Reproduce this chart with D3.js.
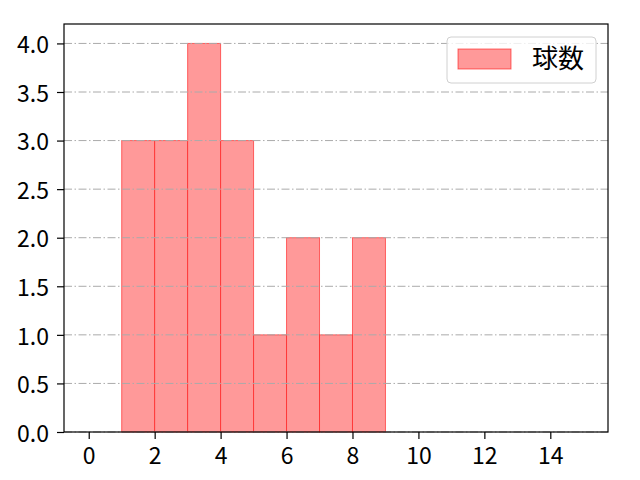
<!DOCTYPE html>
<html>
<head>
<meta charset="utf-8">
<script src="https://cdn.jsdelivr.net/npm/d3@7"></script>
<style>
  body { margin: 0; background: #fff; }
  svg text { font-family: "Noto Sans CJK JP", "DejaVu Sans", sans-serif; }
</style>
</head>
<body>
<svg id="chart" width="640" height="480"></svg>
<script>
// bin edges and counts
var binStarts = [1, 2, 3, 4, 5, 6, 7, 8];
var binEnds = [2, 3, 4, 5, 6, 7, 8, 9];
var counts = [3, 3, 4, 3, 1, 2, 1, 2];
var xTicks = [0, 2, 4, 6, 8, 10, 12, 14];
var yTicks = [0, 0.5, 1, 1.5, 2, 2.5, 3, 3.5, 4];
var seriesName = '球数';

var margin = { top: 24, right: 32, bottom: 48, left: 64 };
var width = 640 - margin.left - margin.right;
var height = 480 - margin.top - margin.bottom;

var svg = d3.select('#chart');
var g = svg.append('g').attr('transform', 'translate(' + margin.left + ',' + margin.top + ')');

var xScale = d3.scaleLinear().domain([-0.75, 15.75]).range([0, width]);
var yScale = d3.scaleLinear().domain([0, 4.2]).range([height, 0]);

//Bars
g.selectAll('rect.bar').data(counts).enter().append('rect')
  .attr('class', 'bar')
  .attr('x', function (d, i) { return xScale(binStarts[i]); })
  .attr('y', function (d) { return yScale(d); })
  .attr('width', function (d, i) { return xScale(binEnds[i]) - xScale(binStarts[i]); })
  .attr('height', function (d) { return height - yScale(d); })
  .attr('fill', 'rgb(255,153,153)')
  .attr('stroke', 'rgba(255,0,0,0.55)')
  .attr('stroke-width', 1);

//Grid lines (drawn over bars)
g.append('g').selectAll('line').data(yTicks).enter().append('line')
  .attr('x1', 0).attr('x2', width)
  .attr('y1', function (d) { return yScale(d); })
  .attr('y2', function (d) { return yScale(d); })
  .attr('stroke', '#aaaaaa')
  .attr('stroke-width', 1)
  .attr('stroke-dasharray', '8,2.5,1.5,2.5');

//Axes
var xAxis = g.append('g').attr('transform', 'translate(0,' + height + ')')
  .call(d3.axisBottom(xScale).tickValues(xTicks).tickSize(7).tickPadding(4).tickFormat(d3.format('d')));
var yAxis = g.append('g')
  .call(d3.axisLeft(yScale).tickValues(yTicks).tickSize(7).tickPadding(8).tickFormat(d3.format('.1f')));

[xAxis, yAxis].forEach(function (a) {
  a.attr('font-family', null);
  a.select('.domain').remove();
  a.selectAll('.tick line').attr('stroke', '#000').attr('stroke-width', 1.2);
  a.selectAll('.tick text').attr('font-size', 23).attr('fill', '#000');
});
xAxis.selectAll('.tick text').attr('dy', '0.9em');
yAxis.selectAll('.tick text').attr('dy', '0.4em');

//Frame
g.append('rect').attr('x', 0).attr('y', 0).attr('width', width).attr('height', height)
  .attr('fill', 'none').attr('stroke', '#000').attr('stroke-width', 1.2);

//Legend
var legend = g.append('g').attr('transform', 'translate(' + (width - 161) + ',13)');
legend.append('rect').attr('width', 149).attr('height', 46).attr('rx', 4)
  .attr('fill', '#fff').attr('fill-opacity', 0.8).attr('stroke', '#d0d0d0');
legend.append('rect').attr('x', 11).attr('y', 12).attr('width', 53).attr('height', 20)
  .attr('fill', 'rgb(255,153,153)').attr('stroke', 'rgba(255,0,0,0.55)');
legend.append('text').attr('x', 85).attr('y', 31).attr('font-size', 26).attr('fill', '#000')
  .text(seriesName);
</script>
</body>
</html>
